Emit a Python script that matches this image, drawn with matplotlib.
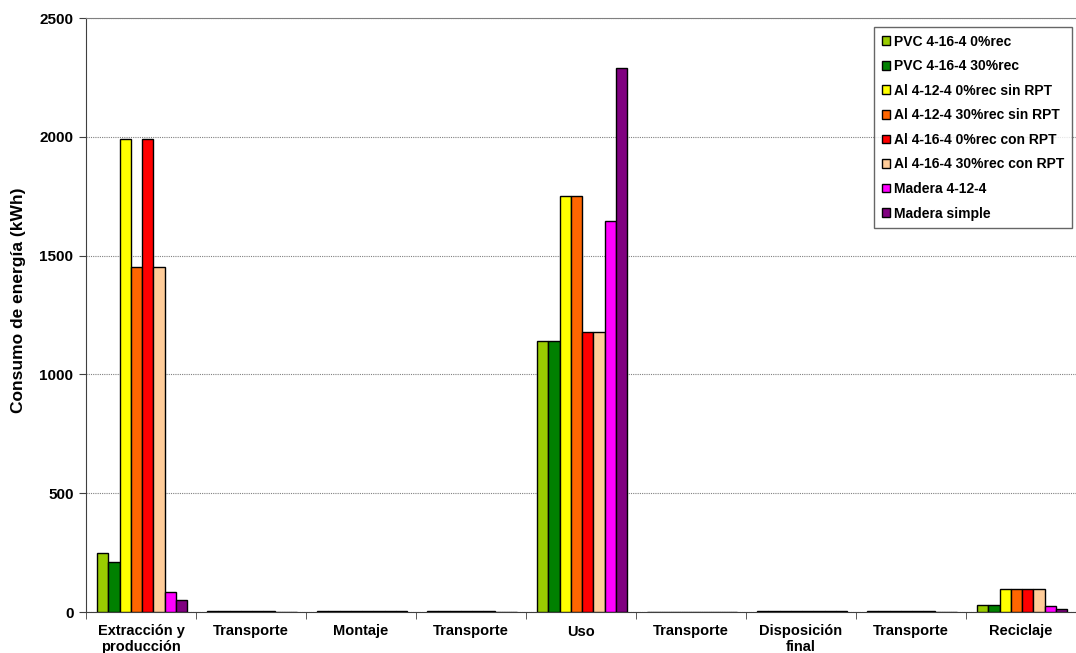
import numpy as np
import matplotlib.pyplot as plt
from matplotlib.ticker import FixedLocator

plt.rcParams['font.family'] = ['Liberation Sans', 'DejaVu Sans']
plt.rcParams['font.weight'] = 'bold'

# Etapas del ciclo de vida
etapas = ['Extracción y\nproducción', 'Transporte', 'Montaje', 'Transporte', 'Uso',
          'Transporte', 'Disposición\nfinal', 'Transporte', 'Reciclaje']

series = ['PVC 4-16-4 0%rec', 'PVC 4-16-4 30%rec', 'Al 4-12-4 0%rec sin RPT',
          'Al 4-12-4 30%rec sin RPT', 'Al 4-16-4 0%rec con RPT',
          'Al 4-16-4 30%rec con RPT', 'Madera 4-12-4', 'Madera simple']

colores = ['#99CC00', '#008000', '#FFFF00', '#FF6600', '#FF0000', '#FFCC99',
           '#FF00FF', '#800080']

# Consumo de energía (kWh) por etapa, una lista por ventana
pvc_0 = [250, 4, 4, 4, 1140, 2, 4, 3, 30]
pvc_30 = [210, 4, 4, 4, 1140, 2, 4, 3, 30]
al_sin_0 = [1990, 4, 4, 4, 1750, 2, 4, 3, 95]
al_sin_30 = [1450, 4, 4, 4, 1750, 2, 4, 3, 95]
al_con_0 = [1990, 4, 4, 4, 1180, 2, 4, 3, 95]
al_con_30 = [1450, 4, 4, 4, 1180, 2, 4, 3, 95]
madera_4124 = [85, 2, 4, 2, 1645, 2, 4, 2, 25]
madera_simple = [50, 2, 4, 2, 2290, 2, 4, 2, 12]

valores = [pvc_0, pvc_30, al_sin_0, al_sin_30, al_con_0, al_con_30,
           madera_4124, madera_simple]

fig = plt.figure(figsize=(10.76, 6.53), dpi=100)
ax = fig.add_axes([86 / 1076, 1 - 612 / 653, 1 - 86 / 1076, (612 - 18) / 653])

x = np.arange(len(etapas))
n = len(series)
ancho = 0.82 / n
for i, (nombre, vals, col) in enumerate(zip(series, valores, colores)):
    pos = x - 0.41 + ancho * (i + 0.5) + 0.01
    ax.bar(pos, vals, width=ancho, color=col, edgecolor='black', linewidth=1,
           label=nombre, zorder=3)

ax.set_xlim(-0.5, len(etapas) - 0.5)
ax.set_ylim(0, 2500)
ax.set_yticks(np.arange(0, 2501, 500))
ax.yaxis.grid(True, linestyle=(0, (1, 1)), color='#808080', linewidth=0.8, zorder=0)

ax.set_xticks(x)
ax.set_xticklabels(etapas, fontsize=10.5, fontweight='bold', linespacing=1.1)
ax.xaxis.set_minor_locator(FixedLocator(np.arange(-0.5, len(etapas), 1)))
ax.tick_params(axis='x', which='major', length=0, pad=9)
ax.tick_params(axis='x', which='minor', length=5, direction='out', color='#404040')
ax.tick_params(axis='y', length=5, direction='out', color='#404040', labelsize=11,
               pad=4)
for lab in ax.get_yticklabels():
    lab.set_fontweight('bold')

ax.set_ylabel('Consumo de energía (kWh)', fontsize=12.5, fontweight='bold')
ax.yaxis.set_label_coords(-0.061, 0.524)

ax.spines['right'].set_visible(False)
ax.spines['top'].set_color('#808080')
ax.spines['top'].set_linewidth(0.8)
ax.spines['left'].set_color('#404040')
ax.spines['bottom'].set_color('#404040')

leg = ax.legend(loc='upper right', bbox_to_anchor=(1072 / 1076, 1 - 27 / 653),
                bbox_transform=fig.transFigure, fontsize=10, frameon=True,
                fancybox=False, handlelength=0.6, handleheight=0.6,
                handletextpad=0.3, labelspacing=0.76, borderpad=0.55,
                borderaxespad=0)
leg.get_frame().set_edgecolor('#404040')
leg.get_frame().set_linewidth(1)
for t in leg.get_texts():
    t.set_fontweight('bold')

fig.savefig('out.png', dpi=100)
